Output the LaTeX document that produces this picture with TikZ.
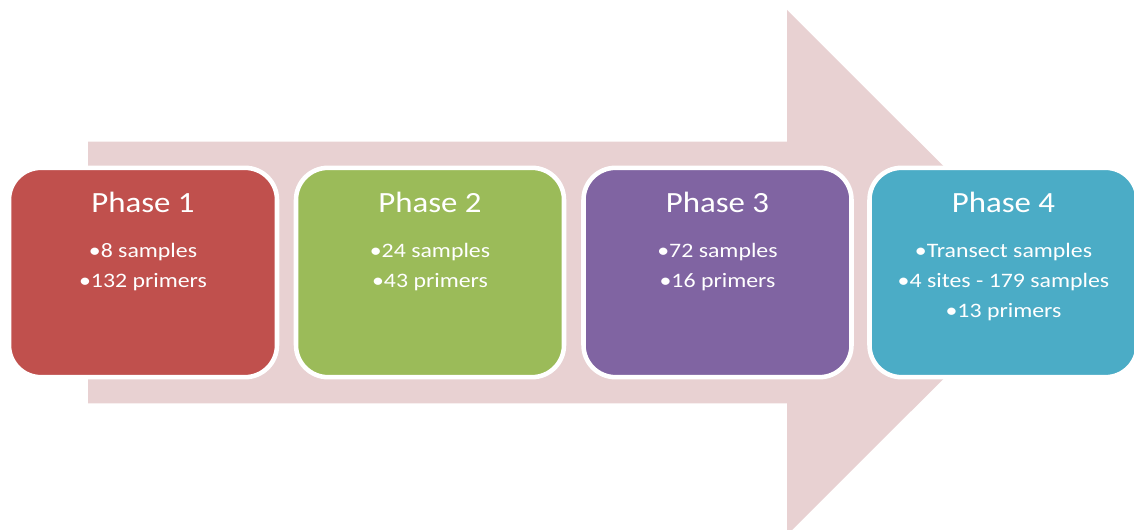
\documentclass[tikz,border=0pt]{standalone}
\usepackage{fontspec}
\newfontfamily\phasefont[FakeStretch=1.12]{Carlito}
\newfontfamily\itemfont[FakeStretch=1.16]{Carlito}
\definecolor{arrowpink}{RGB}{232,209,210}
\definecolor{phaseA}{RGB}{192,80,77}
\definecolor{phaseB}{RGB}{155,187,89}
\definecolor{phaseC}{RGB}{128,100,162}
\definecolor{phaseD}{RGB}{75,172,198}
\tikzset{
  phasebox/.style={draw=white, line width=3.4pt, rounded corners=24pt,
    minimum width=201pt, minimum height=157pt, inner sep=0pt},
  phasetitle/.style={anchor=base, inner sep=0pt, text=white,
    font=\phasefont\fontsize{22}{26}\selectfont},
  phaseitem/.style={anchor=base, inner sep=0pt, text=white,
    font=\itemfont\fontsize{15.4}{18}\selectfont},
}
\begin{document}
\begin{tikzpicture}[x=0.75pt, y=-0.75pt]
  \useasboundingbox (0,0) rectangle (1134,530);
  \clip (0,0) rectangle (1134,530);
  % background block arrow
  \fill[arrowpink] (88,141.7) -- (787,141.7) -- (787,10) -- (1050,272.5)
    -- (787,535) -- (787,403.3) -- (88,403.3) -- cycle;
  % phase boxes
  \node[phasebox, fill=phaseA] (p1) at (143,272.5) {};
  \node[phasebox, fill=phaseB] (p2) at (430,272.5) {};
  \node[phasebox, fill=phaseC] (p3) at (717.5,272.5) {};
  \node[phasebox, fill=phaseD] (p4) at (1003.5,272.5) {};
  % titles and bullet lines
  \foreach \b/\t in {p1/Phase 1, p2/Phase 2, p3/Phase 3, p4/Phase 4}
    \node[phasetitle] (\b t) at ([yshift=-35.5pt]\b.north) {\t};
  \node[phaseitem] (p1a) at ([yshift=-68.7pt]p1.north) {•8 samples};
  \node[phaseitem] (p1b) at ([yshift=-91.2pt]p1.north) {•132 primers};
  \node[phaseitem] (p2a) at ([yshift=-68.7pt]p2.north) {•24 samples};
  \node[phaseitem] (p2b) at ([yshift=-91.2pt]p2.north) {•43 primers};
  \node[phaseitem] (p3a) at ([yshift=-68.7pt]p3.north) {•72 samples};
  \node[phaseitem] (p3b) at ([yshift=-91.2pt]p3.north) {•16 primers};
  \node[phaseitem] (p4a) at ([yshift=-68.7pt]p4.north) {•Transect samples};
  \node[phaseitem] (p4b) at ([yshift=-91.2pt]p4.north) {•4 sites - 179 samples};
  \node[phaseitem] (p4c) at ([yshift=-113.7pt]p4.north) {•13 primers};
\end{tikzpicture}
\end{document}
